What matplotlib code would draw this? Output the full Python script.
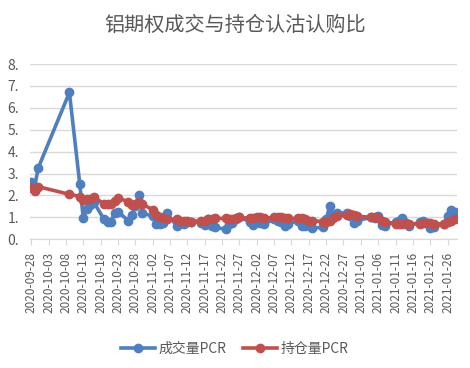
import pandas as pd
import numpy as np
import matplotlib
matplotlib.use('Agg')
import matplotlib.pyplot as plt
import matplotlib.dates as mdates
from matplotlib.ticker import FixedLocator, FixedFormatter

plt.rcParams['font.family'] = ['Noto Sans CJK SC', 'DejaVu Sans']

# trading days shown on the chart
dates = ['2020-09-28', '2020-09-29', '2020-09-30', '2020-10-09',
         '2020-10-12', '2020-10-13', '2020-10-14', '2020-10-15', '2020-10-16',
         '2020-10-19', '2020-10-20', '2020-10-21', '2020-10-22', '2020-10-23',
         '2020-10-26', '2020-10-27', '2020-10-28', '2020-10-29', '2020-10-30',
         '2020-11-02', '2020-11-03', '2020-11-04', '2020-11-05', '2020-11-06',
         '2020-11-09', '2020-11-10', '2020-11-11', '2020-11-12', '2020-11-13',
         '2020-11-16', '2020-11-17', '2020-11-18', '2020-11-19', '2020-11-20',
         '2020-11-23', '2020-11-24', '2020-11-25', '2020-11-26', '2020-11-27',
         '2020-11-30', '2020-12-01', '2020-12-02', '2020-12-03', '2020-12-04',
         '2020-12-07', '2020-12-08', '2020-12-09', '2020-12-10', '2020-12-11',
         '2020-12-14', '2020-12-15', '2020-12-16', '2020-12-17', '2020-12-18',
         '2020-12-21', '2020-12-22', '2020-12-23', '2020-12-24', '2020-12-25',
         '2020-12-28', '2020-12-29', '2020-12-30', '2020-12-31',
         '2021-01-04', '2021-01-05', '2021-01-06', '2021-01-07', '2021-01-08',
         '2021-01-11', '2021-01-12', '2021-01-13', '2021-01-14', '2021-01-15',
         '2021-01-18', '2021-01-19', '2021-01-20', '2021-01-21', '2021-01-22',
         '2021-01-25', '2021-01-26', '2021-01-27', '2021-01-28']

volume_pcr = [2.6, 2.4, 3.25, 6.7,
              2.5, 0.95, 1.4, 1.55, 1.7,
              0.9, 0.8, 0.8, 1.2, 1.25,
              0.85, 1.1, 1.5, 2.0, 1.2,
              1.05, 0.7, 0.7, 0.75, 1.2,
              0.6, 0.75, 0.7, 0.8, 0.8,
              0.75, 0.65, 0.9, 0.6, 0.55,
              0.45, 0.7, 0.75, 0.9, 1.0,
              0.8, 0.65, 0.9, 0.75, 0.7,
              0.9, 0.85, 0.8, 0.6, 0.7,
              0.85, 0.6, 0.6, 0.65, 0.5,
              0.55, 0.9, 1.5, 1.1, 1.2,
              1.2, 1.05, 0.75, 0.85,
              1.0, 0.95, 1.05, 0.65, 0.6,
              0.8, 0.85, 0.95, 0.7, 0.6,
              0.8, 0.85, 0.75, 0.5, 0.55,
              0.7, 1.05, 1.35, 1.25]

oi_pcr = [2.35, 2.2, 2.4, 2.05,
          1.95, 1.8, 1.85, 1.85, 1.95,
          1.6, 1.6, 1.6, 1.75, 1.9,
          1.7, 1.55, 1.6, 1.7, 1.6,
          1.35, 1.1, 1.0, 0.95, 0.9,
          0.9, 0.85, 0.85, 0.85, 0.8,
          0.85, 0.85, 0.9, 0.9, 0.95,
          0.95, 0.9, 0.9, 0.95, 1.0,
          0.95, 0.95, 1.0, 1.0, 0.95,
          1.0, 1.0, 1.0, 0.95, 0.95,
          0.95, 0.95, 0.9, 0.85, 0.85,
          0.8, 0.8, 0.85, 0.95, 1.05,
          1.1, 1.15, 1.1, 1.05,
          1.0, 1.0, 0.95, 0.85, 0.8,
          0.7, 0.7, 0.7, 0.75, 0.7,
          0.7, 0.75, 0.75, 0.75, 0.7,
          0.7, 0.8, 0.85, 0.9]

tick_dates = pd.date_range('2020-09-28', '2021-01-26', freq='5D')
ytick_labels = ['0.', '1.', '2.', '3.', '4.', '5.', '6.', '7.', '8.']

df = pd.DataFrame({'vol': volume_pcr, 'oi': oi_pcr}, index=pd.to_datetime(dates))

fig = plt.figure(figsize=(4.7, 3.68), dpi=100)
ax = fig.add_axes([0.064, 0.35, 0.908, 0.476])

gray = '#595959'
ax.plot(df.index, df['vol'], color='#4F7FBE', lw=2.6, marker='o', ms=6, label='成交量PCR')
ax.plot(df.index, df['oi'], color='#C0504D', lw=2.6, marker='o', ms=6, label='持仓量PCR')

ax.set_xlim(pd.Timestamp('2020-09-27 16:00'), pd.Timestamp('2021-01-28 16:00'))
ax.set_ylim(0, 8)
ax.yaxis.set_major_locator(FixedLocator(range(9)))
ax.yaxis.set_major_formatter(FixedFormatter(ytick_labels))
ax.grid(axis='y', color='#d9d9d9', lw=1)
ax.set_axisbelow(True)

ax.set_xticks(mdates.date2num(tick_dates))
ax.set_xticklabels([d.strftime('%Y-%m-%d') for d in tick_dates], rotation=90)

for s in ['top', 'right', 'left']:
    ax.spines[s].set_visible(False)
ax.spines['bottom'].set_color('#d9d9d9')
ax.tick_params(axis='y', length=0, labelsize=10, labelcolor=gray, pad=8)
ax.tick_params(axis='x', length=4, color='#d9d9d9', labelsize=8.5, labelcolor=gray, pad=5)

fig.text(0.5, 0.93, '铝期权成交与持仓认沽认购比', ha='center', va='center',
         fontsize=14.5, color=gray)
fig.legend(loc='center', bbox_to_anchor=(0.5, 0.052), ncol=2, frameon=False,
           fontsize=10, labelcolor=gray, handlelength=2.4, columnspacing=1.2,
           handletextpad=0.3)

fig.savefig('out.png', dpi=100)
